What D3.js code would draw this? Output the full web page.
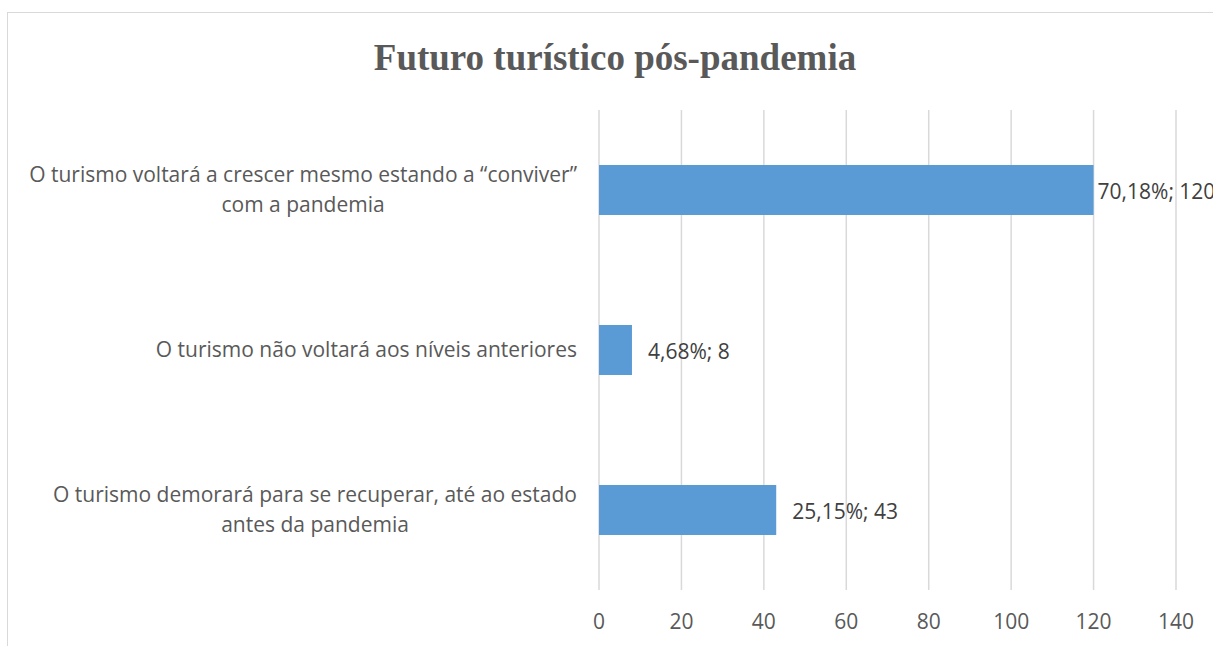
<!DOCTYPE html>
<html>
<head>
<meta charset="utf-8">
<title>Futuro turístico pós-pandemia</title>
<style>
  body { margin: 0; background: #fff; }
  .grid line { stroke: #d9d9d9; stroke-width: 1.5; }
  .bar { fill: #5b9bd5; }
  .lbl { font-family: "Open Sans", sans-serif; font-size: 21px; fill: #595959; }
  .val { font-family: "Open Sans", sans-serif; font-size: 21px; fill: #404040; }
</style>
</head>
<body>
<script src="https://cdnjs.cloudflare.com/ajax/libs/d3/7.8.5/d3.min.js"></script>
<script>
// data
var categories = [
  ["O turismo voltará a crescer mesmo estando a \u201cconviver\u201d", "com a pandemia"],
  ["O turismo não voltará aos níveis anteriores"],
  ["O turismo demorará para se recuperar, até ao estado", "antes da pandemia"]
];
var counts = [120, 8, 43];
var percents = ["70,18%", "4,68%", "25,15%"];
var ticks = [0, 20, 40, 60, 80, 100, 120, 140];

var W = 1213, H = 646;
var plot = {left: 599, right: 1176, top: 110, bottom: 590};

var svg = d3.select("body").append("svg")
    .attr("width", W)
    .attr("height", H);

// chart frame (runs off the right and bottom edge)
svg.append("rect")
    .attr("x", 7.5).attr("y", 12.5)
    .attr("width", 1230).attr("height", 660)
    .attr("fill", "none")
    .attr("stroke", "#d9d9d9");

svg.append("text")
    .attr("x", 615).attr("y", 70)
    .attr("text-anchor", "middle")
    .style("font-family", "'Liberation Serif', 'Times New Roman', serif")
    .style("font-weight", "bold")
    .style("font-size", "37px")
    .style("fill", "#595959")
    .text("Futuro turístico pós-pandemia");

var x = d3.scaleLinear().domain([0, 140]).range([plot.left, plot.right]);
var y = d3.scaleBand()
    .domain(d3.range(categories.length))
    .range([plot.top, plot.bottom])
    .paddingInner(0.6875)
    .paddingOuter(0.34375);

// gridlines
svg.append("g").attr("class", "grid")
  .selectAll("line")
  .data(ticks)
  .enter().append("line")
    .attr("x1", d => x(d)).attr("x2", d => x(d))
    .attr("y1", plot.top).attr("y2", plot.bottom);

// x tick labels
svg.append("g")
  .selectAll("text")
  .data(ticks)
  .enter().append("text")
    .attr("class", "lbl")
    .attr("x", d => x(d))
    .attr("y", 629)
    .attr("text-anchor", "middle")
    .text(d => d);

// bars
svg.selectAll(".bar")
    .data(counts)
  .enter().append("rect")
    .attr("class", "bar")
    .attr("x", x(0))
    .attr("y", (d, i) => y(i))
    .attr("width", d => x(d) - x(0))
    .attr("height", y.bandwidth());

// value labels - pushed back toward the bar if they would run off the page
svg.selectAll(".val")
    .data(counts)
  .enter().append("text")
    .attr("class", "val")
    .attr("y", (d, i) => y(i) + y.bandwidth() / 2 + 9)
    .text((d, i) => percents[i] + "; " + d)
    .attr("x", function(d) {
      var w = this.getComputedTextLength();
      return Math.max(x(d) + 4, Math.min(x(d) + 16, W - w + 2));
    });

// category labels: lines centred within a block right-aligned to the axis
var labelRight = 577, lineH = 30;
categories.forEach(function(lines, i) {
  var g = svg.append("g");
  var texts = lines.map(function(s, j) {
    return g.append("text")
      .attr("class", "lbl")
      .attr("text-anchor", "middle")
      .attr("y", y(i) + y.bandwidth() / 2 + 7 + (j - (lines.length - 1) / 2) * lineH)
      .text(s);
  });
  var maxW = d3.max(texts, t => t.node().getComputedTextLength());
  texts.forEach(t => t.attr("x", labelRight - maxW / 2));
});
</script>
</body>
</html>
